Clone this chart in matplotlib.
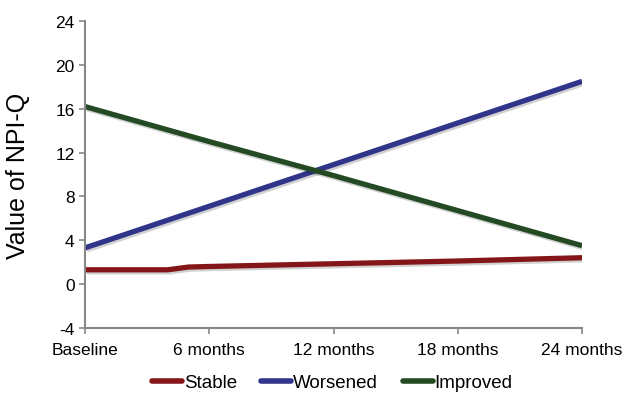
import matplotlib
matplotlib.use("Agg")
import matplotlib.pyplot as plt
import matplotlib.patheffects as pe

plt.rcParams['font.family'] = ['Liberation Sans', 'DejaVu Sans']
plt.rcParams['axes.unicode_minus'] = False

# Data (months since baseline)
tick_months = [0, 6, 12, 18, 24]
tick_labels = ["Baseline", "6 months", "12 months", "18 months", "24 months"]

stable_months = [0, 4, 5, 6, 12, 18, 24]
stable_values = [1.3, 1.3, 1.55, 1.6, 1.85, 2.1, 2.4]

worsened_months = [0, 6, 12, 18, 24]
worsened_values = [3.3, 7.1, 10.9, 14.7, 18.5]

improved_months = [0, 6, 12, 18, 24]
improved_values = [16.2, 13.0, 9.9, 6.7, 3.5]

colors = {"Stable": "#84161a", "Worsened": "#30358a", "Improved": "#234a22"}

fig = plt.figure(figsize=(6.27, 4.02), dpi=100)
ax = fig.add_axes([0.1356, 0.182, 0.7927, 0.763])

shadow = [pe.SimpleLineShadow(offset=(1.2, -1.5), alpha=0.18, shadow_color="black"),
          pe.Normal()]

ax.plot(stable_months, stable_values, color=colors["Stable"], lw=3.8,
        solid_capstyle="butt", path_effects=shadow, label="Stable")
ax.plot(worsened_months, worsened_values, color=colors["Worsened"], lw=3.8,
        solid_capstyle="butt", path_effects=shadow, label="Worsened")
ax.plot(improved_months, improved_values, color=colors["Improved"], lw=3.8,
        solid_capstyle="butt", path_effects=shadow, label="Improved")

# Axes
ax.set_xlim(0, 24)
ax.set_ylim(-4, 24)
ax.set_yticks(range(-4, 25, 4))
ax.set_xticks(tick_months)
ax.set_xticklabels(tick_labels)
ax.tick_params(axis="both", labelsize=12.5, color="#888888", length=4,
               width=1.2, labelcolor="black")
ax.tick_params(axis="x", pad=6)

ax.set_ylabel("Value of NPI-Q", fontsize=18)
ax.yaxis.set_label_coords(-0.11, 0.5)

for side in ["top", "right"]:
    ax.spines[side].set_visible(False)
for side in ["left", "bottom"]:
    ax.spines[side].set_color("#888888")
    ax.spines[side].set_linewidth(1.5)

# Legend below the plot
leg = fig.legend(loc="center", bbox_to_anchor=(0.53, 0.045), ncol=3,
                 frameon=False, fontsize=13.5, handlelength=1.6,
                 handletextpad=0.1, columnspacing=1.3)
for h in leg.get_lines():
    h.set_linewidth(4)
    h.set_solid_capstyle("round")
    h.set_path_effects([])

fig.savefig("out.png", dpi=100)
